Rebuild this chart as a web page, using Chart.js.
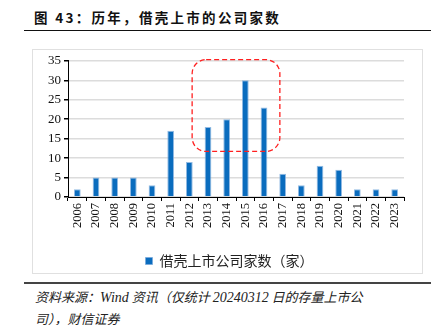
<!doctype html>
<html>
  <head>
    <meta charset="utf-8" />
    <title>借壳上市的公司家数</title>
    <script src="https://cdn.jsdelivr.net/npm/chart.js"></script>
    <style>
      body {
        margin: 0;
        background: #fff;
        width: 438px;
        height: 325px;
        position: relative;
        overflow: hidden;
      }
      .title {
        position: absolute;
        left: 34px;
        top: 7px;
        font-family: "Noto Sans CJK SC", sans-serif;
        font-weight: bold;
        font-size: 13.5px;
        letter-spacing: 2.3px;
        color: #111;
      }
      .rule-top {
        position: absolute;
        left: 24px;
        top: 30px;
        width: 407px;
        height: 1px;
        background: #111;
      }
      .frame {
        position: absolute;
        left: 32px;
        top: 49px;
        width: 389px;
        height: 223px;
        border: 1px solid #e0e0e0;
      }
      .rule-bottom {
        position: absolute;
        left: 24px;
        top: 282px;
        width: 407px;
        height: 2px;
        background: #444;
      }
      .source {
        position: absolute;
        left: 35px;
        top: 286px;
        font-family: "Noto Sans CJK SC", serif;
        font-style: italic;
        font-size: 13px;
        line-height: 21px;
        color: #222;
      }
      .source .en {
        font-family: "Liberation Serif", serif;
        font-size: 14px;
      }
    </style>
  </head>
  <body>
    <div class="title">图 43：历年，借壳上市的公司家数</div>
    <div class="rule-top"></div>
    <div class="frame">
      <canvas id="barChart" width="389" height="223"></canvas>
    </div>
    <div class="rule-bottom"></div>
    <div class="source">
      资料来源：<span class="en">Wind</span> 资讯（仅统计 <span class="en">20240312</span> 日的存量上市公<br />司），财信证券
    </div>

    <script>
      // yearly counts
      var years = ["2006", "2007", "2008", "2009", "2010", "2011", "2012", "2013", "2014",
                   "2015", "2016", "2017", "2018", "2019", "2020", "2021", "2022", "2023"];
      var counts = [2, 5, 5, 5, 3, 17, 9, 18, 20, 30, 23, 6, 3, 8, 7, 2, 2, 2];
      var seriesName = "借壳上市公司家数（家）";
      var yTicks = [0, 5, 10, 15, 20, 25, 30, 35];

      // dashed box around the peak years
      var highlightYears = ["2013", "2016"];
      var highlightRange = [11.7, 35.3];

      var highlightBox = {
        id: "highlightBox",
        afterDatasetsDraw: function (chart) {
          var x = chart.scales.x, y = chart.scales.y, ctx = chart.ctx;
          var step = x.getPixelForValue(1) - x.getPixelForValue(0);
          var left = x.getPixelForValue(years.indexOf(highlightYears[0])) - step * 0.85;
          var right = x.getPixelForValue(years.indexOf(highlightYears[1])) + step * 0.85;
          var top = y.getPixelForValue(highlightRange[1]);
          var bottom = y.getPixelForValue(highlightRange[0]);
          ctx.save();
          ctx.strokeStyle = "#ff2020";
          ctx.lineWidth = 1.3;
          ctx.setLineDash([5, 3]);
          ctx.beginPath();
          ctx.roundRect(left, top, right - left, bottom - top, 14);
          ctx.stroke();
          ctx.restore();
        },
      };

      // nudge the legend a bit right and down
      var legendShift = {
        id: "legendShift",
        afterLayout: function (chart) {
          var lg = chart.legend;
          lg.left += 11;
          lg.right += 11;
          lg.top += 5;
          lg.bottom += 5;
        },
      };

      var ctx = document.getElementById("barChart").getContext("2d");
      var chart = new Chart(ctx, {
        type: "bar",
        data: {
          labels: years,
          datasets: [
            {
              label: seriesName,
              data: counts,
              backgroundColor: "#0a6cbe",
              borderColor: "rgba(120,170,220,0.8)",
              borderWidth: 1,
              categoryPercentage: 1,
              barPercentage: 0.36,
            },
          ],
        },
        options: {
          responsive: false,
          animation: false,
          layout: { padding: { top: 2, right: 18, left: 0, bottom: 0 } },
          plugins: {
            tooltip: { enabled: false },
            legend: {
              position: "bottom",
              labels: {
                boxWidth: 7,
                boxHeight: 7,
                padding: 0,
                color: "#222",
                font: { family: "'Noto Sans CJK SC', sans-serif", size: 14 },
              },
            },
          },
          scales: {
            x: {
              grid: {
                offset: true,
                drawOnChartArea: false,
                color: "#000",
                tickLength: 4,
              },
              border: { color: "#000", width: 1 },
              ticks: {
                minRotation: 90,
                maxRotation: 90,
                padding: 2,
                color: "#111",
                font: { family: "'Liberation Serif', serif", size: 12.5 },
              },
              afterFit: function (scale) {
                scale.height = 52;
              },
            },
            y: {
              min: 0,
              max: 35,
              afterBuildTicks: function (scale) {
                scale.ticks = yTicks.map(function (v) { return { value: v }; });
              },
              grid: {
                color: "#dcdcdc",
                lineWidth: 1.5,
                tickColor: "#000",
                tickLength: 4,
              },
              border: { color: "#000", width: 1 },
              ticks: {
                padding: 3,
                color: "#111",
                font: { family: "'Liberation Serif', serif", size: 13 },
              },
              afterFit: function (scale) {
                scale.width = 35;
              },
            },
          },
        },
        plugins: [highlightBox, legendShift],
      });
    </script>
  </body>
</html>
